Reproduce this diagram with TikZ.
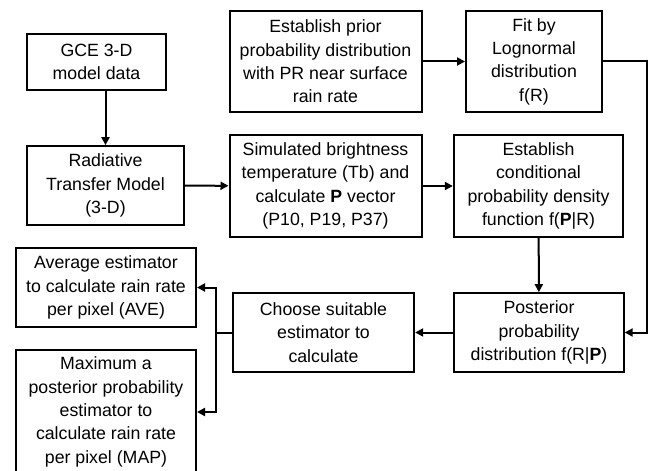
\documentclass[tikz,border=0pt]{standalone}
\usepackage{fontspec}
\setmainfont{Liberation Sans}
\usetikzlibrary{arrows.meta}

\tikzset{
  blk/.style={draw, line width=1.5pt, align=center, inner sep=2pt,
    font=\fontsize{13.3}{17.5}\selectfont},
  flow/.style={line width=1.5pt, -{Triangle[length=6pt,width=6pt]}},
}

\begin{document}
\begin{tikzpicture}[x=0.75pt,y=0.75pt,yscale=-1,xscale=1]
\useasboundingbox (0,0) rectangle (655,470);
% Boxes
\node [blk, minimum width=104pt, minimum height=42pt] (gce) at (96.5,62) {GCE 3-D\\model data};
\node [blk, minimum width=118pt, minimum height=59pt] (rtm) at (105.5,185.5) {Radiative\\Transfer Model\\(3-D)};
\node [blk, minimum width=144pt, minimum height=76pt] (prior) at (325.5,61.5) {Establish prior\\probability distribution\\with PR near surface\\rain rate};
\node [blk, minimum width=102pt, minimum height=76pt] (fit) at (534,61.5) {Fit by\\Lognormal\\distribution\\f(R)};
\node [blk, minimum width=144pt, minimum height=76pt] (sim) at (325.5,186) {Simulated brightness\\temperature (Tb) and\\calculate \textbf{P} vector\\(P10, P19, P37)};
\node [blk, minimum width=127pt, minimum height=76pt] (cond) at (538.5,186) {Establish\\conditional\\probability density\\function f(\textbf{P}|R)};
\node [blk, minimum width=127pt, minimum height=59pt] (post) at (539,332.5) {Posterior\\probability\\distribution f(R|\textbf{P})};
\node [blk, minimum width=136pt, minimum height=59pt] (choose) at (323.5,332.5) {Choose suitable\\estimator to\\calculate};
\node [blk, minimum width=135pt, minimum height=59pt] (ave) at (106,287.5) {Average estimator\\to calculate rain rate\\per pixel (AVE)};
\node [blk, minimum width=135pt, minimum height=93pt] (map) at (106,412) {Maximum a\\posterior probability\\estimator to\\calculate rain rate\\per pixel (MAP)};
% Connectors
\coordinate (rcorner) at (647,61.5);
\coordinate (split) at (216,332.5);
\draw [flow] (gce.south -| rtm.north) -- (rtm.north);
\draw [flow] (rtm) -- (sim);
\draw [flow] (prior) -- (fit);
\draw [flow] (sim) -- (cond);
\draw [flow] (cond) -- (post);
\draw [flow] (fit.east) -- (rcorner) |- (post.east);
\draw [flow] (post) -- (choose);
\draw [line width=1.5pt] (choose.west) -- (split);
\draw [flow] (split) |- (ave.east);
\draw [flow] (split) |- (map.east);
\end{tikzpicture}
\end{document}
